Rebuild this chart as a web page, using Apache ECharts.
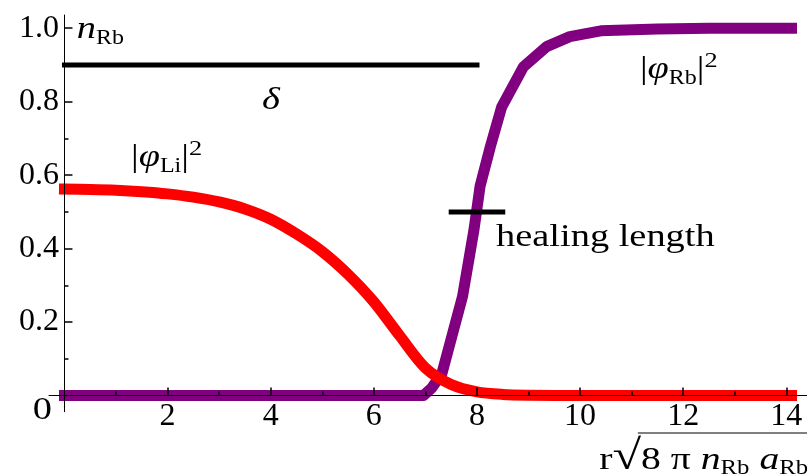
<!DOCTYPE html>
<html>
<head>
<meta charset="utf-8">
<script src="https://cdn.jsdelivr.net/npm/echarts@6/dist/echarts.min.js"></script>
<style>
  html, body { margin: 0; padding: 0; background: #ffffff; }
  #chart { width: 807px; height: 474px; }
</style>
</head>
<body>
<div id="chart"></div>
<script>
// Density profiles across the interface, r in units of 1/sqrt(8 pi n_Rb a_Rb)
const liX = [0, 0.5, 1, 1.5, 2, 2.5, 3, 3.5, 4, 4.5, 5, 5.5, 6, 6.5, 7, 7.5, 8, 8.5, 9, 10, 11, 12, 13, 14.1];
const liY = [0.562, 0.561, 0.559, 0.555, 0.549, 0.540, 0.527, 0.508, 0.480, 0.440, 0.392, 0.330, 0.255, 0.163, 0.075, 0.030, 0.010, 0.003, 0.001, 0, 0, 0, 0, 0];

const rbX = [0, 6.96, 7.12, 7.32, 7.72, 7.94, 8.06, 8.26, 8.48, 8.9, 9.35, 9.8, 10.4, 11.5, 12.5, 14.1];
const rbY = [0, 0, 0.02, 0.06, 0.27, 0.45, 0.57, 0.678, 0.786, 0.895, 0.95, 0.977, 0.993, 0.998, 1, 1];

// width of the Li cloud edge (delta) and the healing-length bar
const deltaX = [0, 8];
const deltaY = [0.9, 0.9];
const healX = [7.5, 8.5];
const healY = [0.5, 0.5];

// tick marks
const xTicks = [2, 4, 6, 8, 10, 12, 14];
const xMinorTicks = [1, 3, 5, 7, 9, 11, 13];
const yTicks = [0.2, 0.4, 0.6, 0.8, 1.0];
const yMinorTicks = [0.1, 0.3, 0.5, 0.7, 0.9];

const FONT = 'Liberation Serif';
const zip = (xs, ys) => xs.map((x, i) => [x, ys[i]]);

const chart = echarts.init(document.getElementById('chart'), null, { renderer: 'canvas' });

const X_MIN = -0.3, X_MAX = 14.4, Y_MIN = -0.044, Y_MAX = 1.036;

function xAxis(major) {
  return {
    type: 'value', min: X_MIN, max: X_MAX, position: 'bottom', z: 5,
    axisLine: { show: major, onZero: true, onZeroAxisIndex: 0, lineStyle: { color: '#000', width: 1 } },
    axisTick: { show: true, inside: true, length: major ? 8 : 4,
      customValues: major ? xTicks : xMinorTicks, lineStyle: { color: '#000', width: 1.5 } },
    axisLabel: { show: major, customValues: xTicks, margin: -11, color: '#000',
      fontFamily: FONT, fontSize: 32 },
    splitLine: { show: false }
  };
}
function yAxis(major) {
  return {
    type: 'value', min: Y_MIN, max: Y_MAX, position: 'left', z: 5,
    axisLine: { show: major, onZero: true, onZeroAxisIndex: 0, lineStyle: { color: '#000', width: 1 } },
    axisTick: { show: true, inside: true, length: major ? 8 : 4,
      customValues: major ? yTicks : yMinorTicks, lineStyle: { color: '#000', width: 1.5 } },
    axisLabel: { show: major, customValues: yTicks, margin: -10, color: '#000',
      fontFamily: FONT, fontSize: 32, formatter: v => v.toFixed(1) },
    splitLine: { show: false }
  };
}

function lineSeries(data, color, width, z, smooth) {
  return {
    type: 'line', data, showSymbol: false, symbol: 'none', silent: true, z,
    smooth: smooth || false,
    lineStyle: { color, width, cap: 'square', join: 'round' }
  };
}

chart.setOption({
  animation: false,
  backgroundColor: '#ffffff',
  grid: { left: 49, right: 0, top: 15, bottom: 62.3, containLabel: false },
  xAxis: [xAxis(true), xAxis(false)],
  yAxis: [yAxis(true), yAxis(false)],
  series: [
    lineSeries(zip(rbX, rbY), '#800080', 11, 2),
    lineSeries(zip(liX, liY), '#ff0000', 11, 3, 0.3),
    lineSeries(zip(deltaX, deltaY), '#000000', 5, 4),
    lineSeries(zip(healX, healY), '#000000', 5, 4)
  ]
});

// text annotations placed in data coordinates
const rich = {
  r: { fontFamily: FONT, fontSize: 32, color: '#000' },
  i: { fontFamily: FONT, fontSize: 32, fontStyle: 'italic', color: '#000' },
  rad: { fontFamily: FONT, fontSize: 42, color: '#000', padding: [0, 0, 4, 0] },
  sub: { fontFamily: FONT, fontSize: 20, color: '#000', padding: [18, 0, 0, 0] },
  sup: { fontFamily: FONT, fontSize: 22, color: '#000', padding: [0, 0, 16, 0] }
};
const annotations = [
  { at: [0.24, 0.996], text: '{i|n}{sub|Rb}', sx: 1.2 },
  { at: [3.83, 0.802], text: '{i|δ}', sx: 1.2 },
  { at: [1.29, 0.648], text: '{r||}{i|φ}{sub|Li}{r||}{sup|2}', sx: 1.2 },
  { at: [11.16, 0.888], text: '{r||}{i|φ}{sub|Rb}{r||}{sup|2}', sx: 1.2 },
  { at: [8.37, 0.43], text: '{r|healing length}', sx: 1.2 },
  { at: [10.37, -0.176], text: '{r|r}{rad|√}{r|8 π }{i|n}{sub|Rb}{i| a}{sub|Rb}', sx: 1.24 }
];
const px = p => chart.convertToPixel({ xAxisIndex: 0, yAxisIndex: 0 }, p);
const graphics = annotations.map(a => {
  const [x, y] = px(a.at);
  return {
    type: 'text', x, y, scaleX: a.sx, silent: true, z: 10,
    style: { text: a.text, rich, x: 0, y: 0, align: 'left', verticalAlign: 'middle' }
  };
});
// origin label
const [ox, oy] = px([-0.427, -0.042]);
graphics.push({
  type: 'text', x: ox, y: oy, scaleX: 1.2, silent: true, z: 10,
  style: { text: '0', font: '32px "Liberation Serif"', fill: '#000', x: 0, y: 0, align: 'center', verticalAlign: 'middle' }
});
// overline of the square root in the axis title
const [lx1, ly] = px([11.12, -0.102]);
const [lx2] = px([X_MAX, -0.102]);
graphics.push({
  type: 'line', silent: true, z: 10,
  shape: { x1: lx1, y1: ly, x2: lx2, y2: ly },
  style: { stroke: '#000', lineWidth: 1.2 }
});
chart.setOption({ graphic: graphics });
</script>
</body>
</html>
